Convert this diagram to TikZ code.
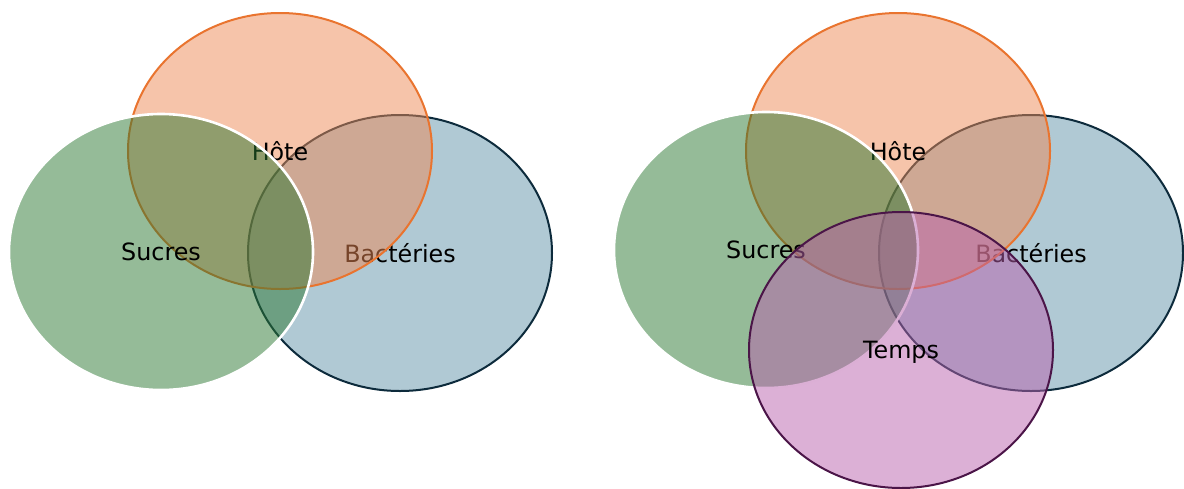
\documentclass[tikz,border=0pt]{standalone}
\usepackage{fontspec}
\setmainfont{DejaVu Sans}
\usepackage{xcolor}
\usepackage{tikz}
\usetikzlibrary{shapes.geometric,
                positioning}

\definecolor{hotefill}{HTML}{ED8955}
\definecolor{hoteline}{HTML}{E9742F}
\definecolor{sucrefill}{HTML}{2B7731}
\definecolor{bactfill}{HTML}{6193A9}
\definecolor{bactline}{HTML}{0D2B3C}
\definecolor{tempsfill}{HTML}{B961AD}
\definecolor{tempsline}{HTML}{4B1548}

\begin{document}
\begin{tikzpicture}
[x=0.5pt,y=-0.5pt,
 set/.style={ellipse,minimum width=152pt,minimum height=138pt,inner sep=0pt,
   line width=1pt,fill opacity=.5,text opacity=1,text depth=0pt,
   font=\fontsize{11.9}{14}\selectfont},
 hote set/.style={set,draw=hoteline,fill=hotefill},
 sucre set/.style={set,draw=white,line width=1.3pt,fill=sucrefill},
 bact set/.style={set,draw=bactline,fill=bactfill},
 temps set/.style={set,draw=tempsline,fill=tempsfill}]

\useasboundingbox (0,0) rectangle (1184,488);

% trois ensembles
\node [bact set] (b1) at (400,253) {Bactéries};
\node [hote set] (h1) at (280,151) {Hôte};
\node [sucre set] (s1) at (161,252) {Sucres};

% quatre ensembles
\node [bact set] (b2) at (1031,253) {Bactéries};
\node [hote set] (h2) at (898,151) {Hôte};
\node [sucre set] (s2) at (766,250) {Sucres};
\node [temps set] (t2) at (901,350) {Temps};
\end{tikzpicture}
\end{document}
